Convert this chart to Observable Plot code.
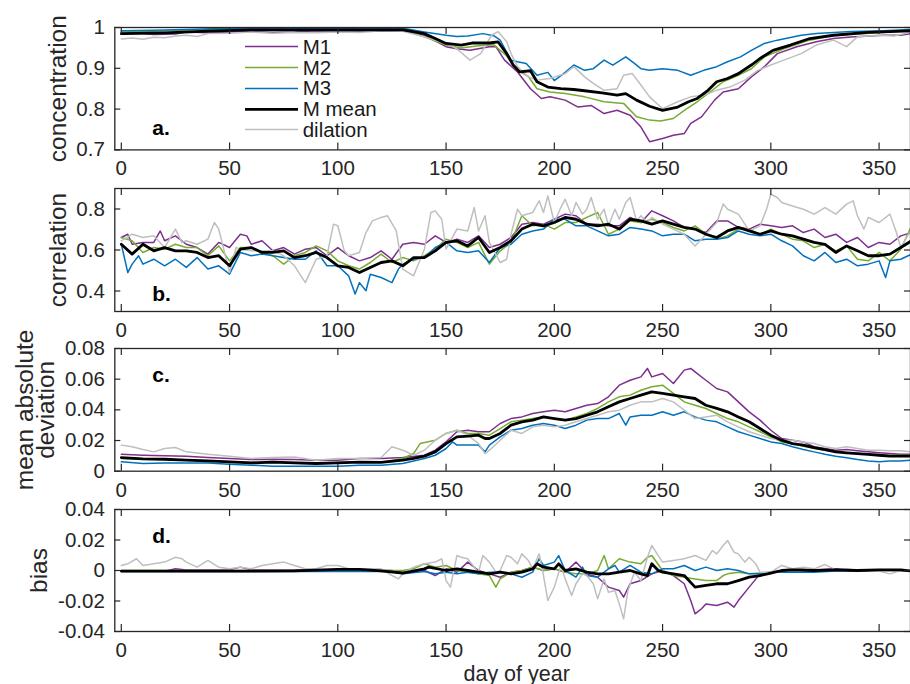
<!DOCTYPE html>
<html><head><meta charset="utf-8">
<script src="https://cdn.jsdelivr.net/npm/d3@7"></script>
<script src="https://cdn.jsdelivr.net/npm/@observablehq/plot@0.6"></script>
<style>
body{margin:0;background:#fff;}
#chart{position:relative;width:910px;height:684px;overflow:hidden;background:#fff;font-family:"Liberation Sans",Arial,Helvetica,sans-serif;}
#chart svg.pnl{position:absolute;left:0;}
#legend{position:absolute;left:245px;top:36.3px;}
.row{height:20.8px;display:flex;align-items:center;font-size:20.5px;color:#1a1a1a;white-space:nowrap;}
</style></head><body><div id="chart"></div>
<script>
// ---------- data (day, value) ----------
const seriesNames = ["M1","M2","M3","M mean","dilation"];
const seriesColors = ["#7E2F8E","#77AC30","#0072BD","#000000","#BFBFBF"];
const xTicks = [0,50,100,150,200,250,300,350];
const aTicks = [0.7,0.8,0.9,1];
const bTicks = [0.4,0.6,0.8];
const cTicks = [0,0.02,0.04,0.06,0.08];
const dTicks = [-0.04,-0.02,0,0.02,0.04];

// panel a: concentration
const a_M1 = [[0,.984],[8,.986],[15,.983],[25,.984],[30,.989],[40,.987],[50,.989],[60,.990],[70,.988],[80,.989],[90,.992],[100,.991],[110,.992],[120,.991],[130,.992],[140,.981],[150,.953],[155,.948],[161,.944],[170,.953],[173,.953],[177,.920],[183,.891],[189,.850],[194,.826],[198,.830],[205,.822],[211,.805],[217,.809],[223,.789],[229,.797],[235,.785],[240,.756],[244,.720],[250,.728],[255,.736],[260,.740],[263,.765],[268,.781],[274,.822],[278,.842],[285,.850],[291,.879],[297,.904],[303,.936],[312,.953],[321,.965],[329,.973],[337,.977],[352,.981],[360,.981],[365,.985]];
const a_M2 = [[0,.989],[15,.991],[30,.994],[60,.995],[90,.994],[130,.994],[140,.977],[150,.957],[157,.950],[165,.955],[172,.958],[178,.930],[183,.895],[188,.880],[192,.850],[198,.842],[205,.838],[214,.830],[223,.818],[232,.814],[238,.781],[244,.773],[249,.771],[255,.777],[260,.797],[266,.818],[272,.842],[278,.867],[285,.883],[291,.899],[297,.928],[306,.948],[318,.969],[329,.981],[350,.987],[365,.992]];
const a_M3 = [[0,.992],[15,.993],[30,.995],[50,.998],[90,.998],[130,.998],[140,.989],[150,.981],[155,.978],[160,.979],[167,.985],[172,.980],[175,.969],[180,.920],[183,.916],[187,.912],[192,.883],[197,.890],[200,.870],[205,.890],[209,.908],[214,.895],[218,.899],[223,.920],[227,.908],[233,.928],[237,.912],[240,.899],[244,.895],[250,.899],[257,.895],[263,.883],[269,.895],[275,.904],[280,.916],[286,.928],[291,.944],[297,.961],[303,.969],[314,.981],[321,.985],[337,.990],[352,.992],[365,.995]];
const a_mean = [[0,.985],[20,.987],[40,.991],[60,.994],[100,.994],[130,.994],[140,.985],[145,.973],[150,.961],[157,.957],[162,.962],[170,.962],[174,.965],[178,.936],[181,.908],[184,.891],[189,.894],[192,.867],[197,.854],[203,.850],[209,.848],[214,.845],[222,.840],[229,.834],[233,.838],[238,.822],[244,.807],[250,.797],[257,.805],[262,.818],[266,.826],[271,.846],[275,.867],[280,.875],[285,.887],[291,.908],[295,.924],[301,.944],[309,.957],[318,.973],[329,.981],[345,.988],[365,.992]];
const a_dil = [[0,.972],[5,.974],[10,.971],[15,.976],[20,.975],[25,.979],[30,.981],[35,.978],[40,.985],[50,.986],[60,.989],[70,.986],[80,.988],[90,.987],[100,.989],[110,.988],[120,.992],[130,.991],[140,.977],[150,.961],[155,.948],[161,.920],[166,.936],[171,.981],[174,.990],[178,.965],[180,.936],[183,.904],[188,.879],[192,.871],[198,.875],[205,.887],[209,.904],[214,.879],[218,.863],[223,.846],[229,.850],[232,.883],[236,.887],[240,.859],[244,.830],[250,.801],[257,.818],[263,.830],[269,.834],[275,.846],[281,.854],[288,.871],[294,.895],[300,.908],[306,.920],[314,.936],[321,.957],[329,.969],[335,.953],[340,.977],[349,.981],[357,.979],[365,.989]];

// panel b: correlation
const b_M1 = [[0,.661],[3,.677],[5,.628],[10,.637],[15,.637],[18,.693],[20,.645],[25,.669],[30,.628],[35,.612],[40,.580],[45,.637],[50,.612],[55,.677],[58,.669],[60,.628],[65,.645],[70,.596],[75,.612],[80,.580],[85,.604],[90,.612],[95,.572],[100,.612],[105,.572],[110,.547],[115,.563],[120,.596],[125,.555],[130,.628],[135,.637],[140,.628],[145,.669],[150,.637],[155,.653],[160,.637],[165,.669],[170,.612],[175,.628],[180,.661],[185,.726],[190,.734],[195,.726],[200,.750],[205,.775],[210,.767],[215,.726],[220,.726],[225,.718],[230,.718],[235,.759],[240,.734],[245,.791],[250,.767],[255,.742],[260,.710],[265,.702],[270,.685],[275,.742],[280,.742],[285,.710],[290,.702],[295,.726],[300,.718],[305,.710],[310,.718],[315,.685],[320,.702],[325,.661],[330,.677],[335,.637],[340,.661],[345,.612],[350,.637],[355,.628],[360,.669],[365,.685]];
const b_M2 = [[0,.661],[5,.645],[10,.588],[15,.612],[20,.604],[25,.628],[30,.612],[35,.612],[40,.572],[45,.620],[50,.547],[55,.612],[60,.612],[65,.588],[70,.572],[75,.531],[80,.572],[85,.588],[90,.620],[95,.596],[100,.547],[105,.523],[110,.507],[115,.539],[120,.580],[125,.539],[130,.563],[135,.547],[140,.572],[145,.604],[150,.653],[155,.637],[160,.612],[165,.637],[170,.531],[175,.596],[180,.637],[185,.767],[190,.718],[195,.726],[200,.702],[205,.734],[210,.734],[215,.759],[220,.783],[225,.677],[230,.702],[235,.742],[240,.734],[245,.750],[250,.734],[255,.710],[260,.693],[265,.718],[270,.677],[275,.653],[280,.669],[285,.702],[290,.702],[295,.677],[300,.702],[305,.677],[310,.653],[315,.645],[320,.612],[325,.628],[330,.596],[335,.620],[340,.555],[345,.547],[350,.588],[355,.547],[360,.604],[365,.718]];
const b_M3 = [[0,.628],[3,.490],[5,.531],[8,.572],[10,.531],[15,.555],[20,.523],[25,.555],[30,.515],[35,.563],[40,.507],[45,.523],[50,.482],[55,.588],[60,.572],[65,.580],[70,.572],[75,.563],[80,.555],[85,.555],[90,.596],[95,.523],[100,.523],[105,.474],[108,.385],[110,.441],[113,.401],[115,.482],[120,.466],[125,.441],[128,.507],[130,.531],[135,.555],[140,.563],[145,.612],[150,.637],[155,.596],[160,.588],[165,.596],[170,.539],[175,.612],[180,.628],[185,.677],[190,.693],[195,.702],[200,.750],[205,.750],[210,.718],[215,.718],[220,.693],[225,.669],[230,.677],[235,.710],[240,.702],[245,.693],[250,.669],[255,.677],[260,.677],[265,.645],[270,.653],[275,.653],[280,.661],[285,.693],[290,.677],[295,.669],[300,.677],[305,.645],[310,.620],[315,.572],[320,.547],[325,.588],[330,.539],[335,.555],[340,.523],[345,.531],[350,.547],[353,.466],[355,.547],[360,.555],[365,.580]];
const b_mean = [[0,.628],[5,.580],[10,.628],[15,.596],[20,.612],[25,.596],[30,.596],[35,.588],[40,.563],[45,.572],[50,.523],[55,.604],[60,.612],[65,.588],[70,.588],[75,.596],[80,.563],[85,.572],[90,.588],[95,.563],[100,.523],[105,.515],[110,.490],[115,.515],[120,.539],[125,.547],[130,.523],[135,.563],[140,.563],[145,.596],[150,.637],[155,.645],[160,.620],[165,.661],[170,.588],[175,.612],[180,.645],[185,.702],[190,.726],[195,.718],[200,.734],[205,.759],[210,.750],[215,.726],[220,.718],[225,.726],[230,.702],[235,.750],[240,.742],[245,.726],[250,.742],[255,.726],[260,.710],[265,.702],[270,.677],[275,.661],[280,.693],[285,.710],[290,.693],[295,.677],[300,.693],[305,.677],[310,.669],[315,.653],[320,.637],[325,.628],[330,.588],[335,.620],[340,.596],[345,.572],[350,.572],[355,.580],[360,.612],[365,.645]];
const b_dil = [[0,.645],[5,.677],[10,.661],[15,.669],[20,.612],[25,.702],[28,.637],[30,.645],[35,.628],[40,.653],[43,.734],[45,.702],[50,.490],[53,.612],[55,.604],[60,.596],[65,.596],[70,.596],[75,.572],[80,.523],[85,.441],[90,.555],[95,.572],[98,.726],[100,.718],[103,.596],[105,.572],[110,.588],[113,.685],[116,.742],[120,.759],[123,.767],[127,.693],[130,.507],[135,.474],[140,.604],[143,.783],[145,.791],[148,.750],[150,.604],[155,.702],[160,.693],[163,.807],[165,.693],[168,.767],[170,.637],[175,.539],[178,.555],[180,.677],[183,.799],[185,.767],[190,.783],[193,.840],[195,.783],[197,.864],[200,.734],[203,.807],[205,.848],[208,.767],[210,.832],[213,.775],[215,.799],[217,.856],[220,.750],[223,.799],[225,.718],[228,.799],[230,.750],[233,.832],[235,.856],[238,.742],[240,.767],[243,.734],[245,.759],[250,.726],[255,.702],[260,.677],[265,.620],[268,.653],[270,.677],[275,.734],[278,.824],[280,.799],[285,.775],[290,.693],[295,.718],[298,.799],[300,.872],[303,.856],[305,.832],[310,.815],[315,.799],[320,.775],[325,.807],[330,.775],[335,.824],[338,.840],[340,.767],[343,.702],[345,.759],[350,.734],[355,.775],[358,.685],[360,.612],[365,.702]];

// panel c: mean absolute deviation
const c_M1 = [[0,.0111],[10,.0104],[20,.0100],[30,.0098],[40,.0089],[50,.0083],[60,.0076],[70,.0078],[80,.0076],[90,.0072],[100,.0072],[110,.0083],[120,.0083],[130,.0089],[140,.0104],[145,.0137],[150,.0191],[155,.0257],[160,.0267],[165,.0257],[170,.0257],[175,.0311],[180,.0343],[185,.0354],[190,.0376],[195,.0387],[200,.0398],[205,.0387],[210,.0409],[215,.0430],[220,.0441],[225,.0485],[230,.0561],[235,.0593],[240,.0615],[243,.0670],[245,.0615],[250,.0637],[255,.0572],[260,.0659],[263,.0670],[265,.0648],[270,.0593],[275,.0539],[280,.0517],[285,.0452],[290,.0387],[295,.0333],[300,.0267],[305,.0213],[310,.0202],[315,.0191],[320,.0159],[325,.0148],[330,.0137],[335,.0141],[340,.0133],[345,.0126],[350,.0120],[355,.0115],[360,.0111],[365,.0111]];
const c_M2 = [[0,.0083],[10,.0078],[20,.0076],[30,.0072],[40,.0067],[50,.0061],[60,.0057],[70,.0059],[80,.0057],[90,.0054],[100,.0057],[110,.0061],[120,.0059],[130,.0083],[135,.0115],[138,.0180],[145,.0202],[150,.0246],[155,.0267],[160,.0246],[165,.0246],[170,.0235],[175,.0278],[180,.0322],[185,.0333],[190,.0343],[195,.0354],[200,.0343],[205,.0333],[210,.0354],[215,.0376],[220,.0409],[225,.0452],[230,.0485],[235,.0496],[240,.0528],[245,.0550],[250,.0561],[255,.0507],[260,.0452],[265,.0430],[270,.0409],[275,.0376],[280,.0343],[285,.0322],[290,.0289],[295,.0257],[300,.0224],[305,.0191],[310,.0180],[315,.0163],[320,.0148],[325,.0137],[330,.0126],[335,.0120],[340,.0115],[345,.0111],[350,.0109],[355,.0104],[360,.0104],[365,.0104]];
const c_M3 = [[0,.0061],[10,.0050],[20,.0054],[40,.0054],[50,.0046],[60,.0039],[70,.0033],[100,.0033],[110,.0039],[120,.0039],[130,.0050],[140,.0083],[145,.0104],[150,.0148],[153,.0191],[155,.0170],[160,.0170],[165,.0170],[168,.0126],[170,.0170],[175,.0224],[180,.0267],[185,.0278],[190,.0300],[195,.0311],[200,.0300],[205,.0278],[210,.0300],[215,.0333],[220,.0343],[225,.0343],[230,.0376],[233,.0300],[235,.0354],[240,.0365],[245,.0365],[250,.0387],[255,.0365],[260,.0387],[265,.0354],[270,.0333],[275,.0322],[280,.0289],[285,.0257],[290,.0235],[295,.0213],[300,.0191],[305,.0180],[310,.0159],[315,.0141],[320,.0126],[325,.0111],[330,.0098],[335,.0087],[340,.0076],[345,.0067],[350,.0061],[355,.0067],[360,.0067],[365,.0072]];
const c_mean = [[0,.0089],[10,.0080],[20,.0078],[30,.0072],[40,.0067],[50,.0061],[60,.0054],[70,.0059],[80,.0054],[90,.0050],[100,.0054],[110,.0059],[120,.0057],[130,.0072],[135,.0083],[140,.0098],[145,.0126],[150,.0180],[155,.0224],[160,.0228],[165,.0235],[168,.0213],[170,.0213],[175,.0246],[180,.0300],[185,.0322],[190,.0333],[195,.0354],[200,.0343],[205,.0333],[210,.0343],[215,.0365],[220,.0387],[225,.0420],[230,.0452],[235,.0474],[240,.0496],[245,.0517],[250,.0507],[255,.0496],[260,.0485],[265,.0474],[270,.0430],[275,.0409],[280,.0387],[285,.0354],[290,.0322],[295,.0278],[300,.0235],[305,.0202],[310,.0180],[315,.0170],[320,.0154],[325,.0141],[330,.0126],[335,.0120],[340,.0115],[345,.0109],[350,.0104],[355,.0098],[360,.0098],[365,.0098]];
const c_dil = [[0,.0170],[5,.0159],[10,.0141],[15,.0126],[20,.0148],[25,.0154],[30,.0126],[40,.0111],[50,.0098],[60,.0083],[70,.0089],[80,.0093],[90,.0072],[100,.0083],[110,.0083],[120,.0089],[125,.0159],[130,.0137],[135,.0104],[140,.0137],[145,.0202],[150,.0246],[155,.0267],[160,.0235],[165,.0180],[168,.0115],[170,.0137],[175,.0202],[180,.0267],[185,.0246],[190,.0289],[195,.0300],[200,.0289],[205,.0300],[210,.0322],[215,.0343],[220,.0365],[225,.0387],[230,.0398],[235,.0430],[240,.0452],[245,.0452],[250,.0474],[255,.0452],[258,.0420],[260,.0398],[265,.0343],[270,.0354],[275,.0365],[280,.0322],[285,.0289],[290,.0257],[295,.0235],[300,.0213],[305,.0202],[310,.0202],[315,.0191],[320,.0180],[325,.0159],[330,.0148],[335,.0159],[340,.0148],[345,.0137],[350,.0137],[355,.0133],[360,.0133],[365,.0126]];

// panel d: bias
const d_M1 = [[0,-.0004],[20,-.0004],[25,.0011],[30,.0004],[50,.0004],[55,.0022],[60,.0004],[110,.0004],[125,0],[130,-.0011],[140,0],[145,-.0033],[150,.0011],[155,-.0011],[160,.0055],[165,0],[170,-.0022],[175,-.0044],[180,-.0011],[185,0],[190,.0022],[195,0],[200,.0011],[205,-.0011],[210,.0055],[215,-.0022],[220,-.0044],[225,-.0109],[230,-.0131],[232,-.0175],[235,-.0087],[240,-.0066],[245,-.0022],[250,0],[255,-.0033],[260,-.0087],[263,-.0197],[265,-.0284],[268,-.0251],[270,-.0219],[275,-.0230],[280,-.0208],[283,-.0240],[285,-.0197],[290,-.0109],[295,-.0022],[300,-.0011],[305,0],[310,.0011],[320,.0004],[330,.0011],[340,0],[350,.0004],[360,0],[365,-.0004]];
const d_M2 = [[0,0],[130,0],[135,.0011],[140,.0044],[145,.0022],[150,.0033],[155,0],[160,-.0011],[165,-.0022],[170,-.0033],[173,-.0109],[175,-.0055],[180,-.0011],[185,0],[190,.0022],[195,0],[200,.0011],[205,-.0011],[210,-.0022],[215,-.0022],[220,0],[223,.0098],[225,.0011],[230,.0077],[235,.0055],[240,.0044],[243,.0087],[245,.0098],[250,0],[255,-.0033],[260,-.0044],[265,-.0055],[270,-.0066],[275,-.0066],[278,-.0033],[280,-.0022],[285,-.0011],[290,-.0022],[300,-.0011],[310,.0004],[320,0],[330,.0004],[340,0],[350,.0004],[360,.0004],[365,-.0004]];
const d_M3 = [[0,-.0007],[125,-.0007],[130,-.0022],[140,-.0007],[145,-.0022],[150,-.0011],[155,-.0022],[160,-.0011],[165,-.0022],[170,-.0011],[175,-.0011],[180,-.0022],[185,-.0044],[190,-.0011],[193,.0077],[195,.0033],[200,.0055],[202,.0098],[205,0],[210,-.0044],[213,.0022],[215,-.0033],[220,-.0044],[225,.0011],[228,.0033],[230,-.0011],[235,.0033],[240,-.0011],[245,-.0022],[250,.0011],[255,.0011],[260,.0033],[265,0],[270,.0022],[275,0],[280,.0011],[285,0],[290,-.0022],[295,-.0022],[300,-.0011],[310,-.0011],[320,-.0011],[330,-.0004],[340,-.0004],[350,0],[360,0],[365,-.0004]];
const d_mean = [[0,-.0004],[20,-.0004],[40,-.0004],[60,-.0004],[80,-.0002],[100,.0007],[110,.0007],[120,-.0002],[130,-.0017],[140,.0011],[142,.0022],[150,0],[155,.0011],[160,0],[165,-.0011],[170,-.0022],[175,-.0011],[180,-.0022],[185,-.0011],[190,.0011],[192,.0044],[195,.0022],[200,.0011],[202,.0044],[205,0],[210,.0011],[215,-.0011],[220,-.0022],[225,-.0022],[230,-.0011],[235,0],[240,-.0022],[243,-.0033],[245,.0044],[248,0],[250,-.0011],[255,-.0022],[260,-.0033],[265,-.0109],[270,-.0098],[275,-.0087],[280,-.0087],[285,-.0066],[290,-.0044],[295,-.0033],[300,-.0017],[305,0],[310,.0004],[320,0],[330,.0004],[340,0],[350,.0004],[360,.0004],[365,-.0004]];
const d_dil = [[0,.0033],[3,.0044],[7,.0077],[10,.0033],[15,.0044],[20,.0055],[25,.0087],[28,.0077],[30,.0055],[35,.0022],[40,.0066],[45,.0022],[50,.0011],[55,.0022],[60,.0011],[65,.0033],[70,.0044],[75,.0055],[80,.0033],[85,.0011],[90,.0011],[95,.0033],[100,.0033],[105,.0011],[120,.0011],[125,-.0033],[128,-.0055],[130,-.0022],[135,.0022],[140,.0044],[145,.0055],[148,.0077],[150,-.0066],[152,-.0109],[155,.0098],[157,.0087],[160,.0077],[163,.0022],[165,-.0011],[167,.0098],[170,.0055],[173,-.0011],[175,0],[178,.0098],[180,.0087],[183,.0044],[185,.0109],[188,.0066],[190,.0011],[193,.0109],[195,-.0033],[197,-.0197],[200,-.0109],[203,.0033],[205,-.0055],[208,-.0164],[210,-.0087],[213,-.0022],[215,-.0033],[218,-.0087],[220,-.0186],[223,-.0055],[225,-.0142],[228,-.0131],[230,-.0219],[232,-.0317],[234,-.0131],[237,-.0011],[240,-.0066],[243,.0087],[245,.0164],[248,.0098],[250,.0055],[255,.0066],[260,.0077],[265,.0098],[270,.0066],[273,.0131],[275,.0109],[278,.0164],[280,.0197],[283,.0120],[285,.0109],[288,.0055],[290,.0087],[293,.0044],[295,-.0011],[300,-.0011],[305,.0033],[310,.0011],[315,.0022],[320,.0011],[325,.0039],[330,.0004],[335,.0011],[340,0],[345,0],[350,-.0004],[355,-.0022],[360,0],[365,-.0004]];

// ---------- drawing ----------
const AXIS = "#262626";
const X0 = -3, X1 = 364.5, ML = 114.3, W = 910;
const pxPerDay = (W - ML) / (X1 - X0);
const fmt = d => String(Math.round(d * 100) / 100);
const chart = document.getElementById("chart");

const panels = [
  {top: 27.3, frameH: 122.4, mt: 12, mb: 35, domain: [0.7, 1], ticks: aTicks, series: [a_M1, a_M2, a_M3, a_mean, a_dil],
   label: "concentration", labelX: 65, lh: 1, letter: "a.", letterAnchor: "bottom-left", letterDy: -14.7},
  {top: 187.7, frameH: 123, mt: 12, mb: 35, domain: [0.3, 0.9], ticks: bTicks, series: [b_M1, b_M2, b_M3, b_mean, b_dil],
   label: "correlation", labelX: 65, lh: 1, letter: "b.", letterAnchor: "bottom-left", letterDy: -10.7},
  {top: 348.3, frameH: 122.7, mt: 12, mb: 35, domain: [0, 0.08], ticks: cTicks, series: [c_M1, c_M2, c_M3, c_mean, c_dil],
   label: "mean absolute\ndeviation", labelX: 53, lh: 0.82, letter: "c.", letterAnchor: "top-left", letterDy: 33.4},
  {top: 509, frameH: 122, mt: 12, mb: 53, domain: [-0.04, 0.04], ticks: dTicks, series: [d_M1, d_M2, d_M3, d_mean, d_dil],
   label: "bias", labelX: 46.7, lh: 1, letter: "d.", letterAnchor: "top-left", letterDy: 33.3, xlabel: "day of year"}
];

for (const p of panels) {
  const [lo, hi] = p.domain;
  const xt = (hi - lo) * 7 / p.frameH;
  const yt = 6 / pxPerDay;
  const order = [0, 1, 2, 4, 3];
  const lines = order.map(i => Plot.line(p.series[i], {
    x: d => d[0], y: d => d[1], stroke: seriesColors[i],
    strokeWidth: i === 3 ? 2.8 : 1.5, clip: true, strokeLinejoin: "round"
  }));
  const marks = [
    ...lines,
    Plot.ruleX(xTicks, {x: d => d, y1: lo, y2: lo + xt, stroke: AXIS, strokeWidth: 1.2}),
    Plot.ruleX(xTicks, {x: d => d, y1: hi, y2: hi - xt, stroke: AXIS, strokeWidth: 1.2}),
    Plot.ruleY(p.ticks, {y: d => d, x1: X0, x2: X0 + yt, stroke: AXIS, strokeWidth: 1.2}),
    Plot.ruleY(p.ticks, {y: d => d, x1: X1, x2: X1 - yt, stroke: AXIS, strokeWidth: 1.2}),
    Plot.frame({stroke: AXIS, strokeWidth: 1.3}),
    Plot.axisX(xTicks, {tickSize: 0, tickPadding: 11, tickFormat: d => String(d), label: null}),
    Plot.axisY(p.ticks, {tickSize: 0, tickPadding: 10, tickFormat: fmt, label: null}),
    Plot.text([p.label], {text: d => d, frameAnchor: "left", dx: p.labelX - ML, rotate: -90,
      textAnchor: "middle", lineAnchor: "bottom", fontSize: 24.5, lineHeight: p.lh, fill: AXIS}),
    Plot.text([p.letter], {text: d => d, frameAnchor: p.letterAnchor, dx: 37.4, dy: p.letterDy,
      textAnchor: "start", lineAnchor: "bottom", fontSize: 21, fontWeight: "bold", fill: "#000"})
  ];
  if (p.xlabel) {
    marks.push(Plot.text([p.xlabel], {text: d => d, frameAnchor: "bottom", dx: 4, dy: 49,
      textAnchor: "middle", lineAnchor: "bottom", fontSize: 21.5, fill: AXIS}));
  }
  const el = Plot.plot({
    width: W, height: p.mt + p.frameH + p.mb,
    marginLeft: ML, marginRight: 0, marginTop: p.mt, marginBottom: p.mb,
    x: {domain: [X0, X1]}, y: {domain: p.domain},
    style: {background: "transparent", fontFamily: "'Liberation Sans', Arial, Helvetica, sans-serif",
      fontSize: "20.5px", color: AXIS, overflow: "visible"},
    marks
  });
  el.classList.add("pnl");
  el.style.top = (p.top - p.mt) + "px";
  chart.appendChild(el);
}

// legend
const legend = d3.select(chart).append("div").attr("id", "legend");
seriesNames.forEach((n, i) => {
  const row = legend.append("div").attr("class", "row");
  const s = row.append("svg").attr("width", 53).attr("height", 20.8);
  s.append("line").attr("x1", 0).attr("x2", 53).attr("y1", 10.4).attr("y2", 10.4)
    .attr("stroke", seriesColors[i]).attr("stroke-width", i === 3 ? 2.8 : 1.5);
  row.append("span").style("margin-left", "4.7px").text(n);
});
</script></body></html>
